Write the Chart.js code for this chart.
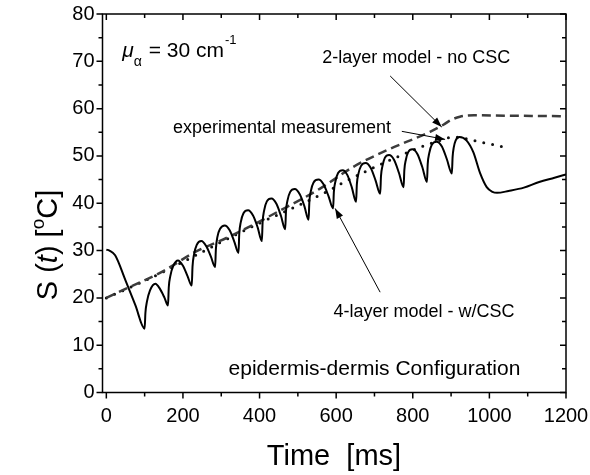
<!DOCTYPE html>
<html>
<head>
<meta charset="utf-8">
<script src="https://cdn.jsdelivr.net/npm/chart.js@4.4.1/dist/chart.umd.min.js"></script>
<style>
  html, body { margin: 0; padding: 0; background: #fff; }
  #wrap { width: 590px; height: 475px; position: relative; }
</style>
</head>
<body>
<div id="wrap"><canvas id="chjs_chart0"></canvas></div>
<script>
// 4-layer model - w/CSC (solid)
const modelTime = [0, 8, 23, 50, 76, 100,
  102, 106, 114, 128, 140, 152, 161,
  163, 167, 175, 187, 200, 212, 223,
  225, 229, 236, 248, 261, 273, 284,
  286, 290, 297, 309, 322, 334, 345,
  347, 351, 358, 370, 383, 395, 406,
  408, 412, 419, 431, 444, 456, 467,
  469, 473, 480, 492, 505, 517, 528,
  530, 534, 541, 554, 567, 580, 592,
  594, 598, 605, 617, 629, 641, 652,
  654, 658, 665, 677, 690, 703, 715,
  717, 721, 727, 738, 751, 764, 776,
  778, 782, 788, 799, 812, 825, 837,
  839, 843, 850, 862, 876, 889, 902,
  904, 907, 912, 922, 940, 958, 976, 993, 1008, 1020, 1050, 1090, 1130, 1170, 1200];
const modelTemp = [30.2, 30.0, 29.0, 23.7, 18.4, 13.5,
  16.8, 19.2, 21.6, 23.0, 21.9, 20.0, 18.4,
  22.2, 24.6, 26.8, 27.9, 26.8, 24.6, 22.6,
  26.6, 29.2, 31.2, 32.0, 30.9, 28.7, 26.5,
  30.3, 32.9, 34.6, 35.3, 34.3, 31.9, 29.5,
  33.5, 36.0, 37.9, 38.5, 37.4, 34.9, 32.0,
  36.0, 38.5, 40.4, 41.0, 39.9, 37.3, 34.5,
  38.3, 40.6, 42.4, 43.0, 41.9, 39.4, 36.5,
  40.3, 42.6, 44.4, 45.0, 44.0, 41.5, 38.9,
  42.4, 44.6, 46.4, 47.0, 46.0, 43.3, 40.3,
  44.0, 46.2, 47.9, 48.5, 47.5, 44.8, 42.0,
  45.7, 47.9, 49.6, 50.2, 49.2, 46.4, 43.4,
  47.0, 49.2, 50.8, 51.4, 50.4, 47.6, 44.5,
  48.3, 50.6, 52.4, 53.0, 52.0, 49.3, 46.3,
  49.8, 51.8, 53.3, 54.0, 53.3, 50.8, 46.3, 43.4, 42.4, 42.2, 42.6, 43.3, 44.5, 45.4, 46.1];

// 2-layer model - no CSC (dashed)
const twoLayerTime = [0, 50, 145, 232, 328, 450, 558, 645, 732, 845, 880, 900, 923, 960, 1050, 1200];
const twoLayerTemp = [20.0, 21.9, 25.5, 29.7, 33.2, 38.3, 43.1, 47.7, 51.2, 55.1, 56.6, 57.6, 58.3, 58.6, 58.5, 58.4];

// experimental measurement (dotted)
const expTime = [0, 100, 200, 300, 400, 500, 584, 610, 689, 754, 828, 880, 906, 930, 958, 984, 1010, 1040];
const expTemp = [20.0, 23.6, 27.6, 31.8, 35.8, 39.5, 42.8, 44.0, 47.2, 49.6, 52.1, 53.5, 54.0, 53.8, 53.3, 52.8, 52.4, 51.8];

// axis ticks
const xMajorTicks = [0, 200, 400, 600, 800, 1000, 1200];
const xMinorTicks = [100, 300, 500, 700, 900, 1100];
const yMajorTicks = [0, 10, 20, 30, 40, 50, 60, 70, 80];
const yMinorTicks = [5, 15, 25, 35, 45, 55, 65, 75];

const FONT = "Arial, 'Liberation Sans', sans-serif";

function pairs(xs, ys){
    const out = [];
    for (let i=0; i<xs.length; i++){
        out.push({x: xs[i], y: ys[i]});
    }
    return out;
}

// draws a row of text pieces (text, font, dy) starting at x
function drawRuns(ctx, runs, x, y){
    let cx = x;
    for (const r of runs){
        ctx.font = r.font;
        ctx.fillText(r.text, cx, y + (r.dy || 0));
        cx += ctx.measureText(r.text).width + (r.gap || 0);
    }
    return cx;
}
function runsWidth(ctx, runs){
    let w = 0;
    for (const r of runs){
        ctx.font = r.font;
        w += ctx.measureText(r.text).width + (r.gap || 0);
    }
    return w;
}

function arrow(ctx, x0, y0, x1, y1){
    ctx.beginPath();
    ctx.moveTo(x0, y0);
    ctx.lineTo(x1, y1);
    ctx.lineWidth = 1;
    ctx.strokeStyle = "#000";
    ctx.stroke();
    const a = Math.atan2(y1 - y0, x1 - x0);
    const len = 10, hw = 3.5;
    ctx.beginPath();
    ctx.moveTo(x1, y1);
    ctx.lineTo(x1 - len*Math.cos(a) + hw*Math.sin(a), y1 - len*Math.sin(a) - hw*Math.cos(a));
    ctx.lineTo(x1 - len*Math.cos(a) - hw*Math.sin(a), y1 - len*Math.sin(a) + hw*Math.cos(a));
    ctx.closePath();
    ctx.fillStyle = "#000";
    ctx.fill();
}

const decor = {
    id: "decor",
    afterDraw(chart){
        const ctx = chart.ctx;
        const a = chart.chartArea;
        const xs = chart.scales.x, ys = chart.scales.y;
        const px = v => xs.getPixelForValue(v);
        const py = v => ys.getPixelForValue(v);
        ctx.save();

        // frame
        ctx.strokeStyle = "#000";
        ctx.lineWidth = 1.5;
        ctx.strokeRect(a.left, a.top, a.right - a.left, a.bottom - a.top);

        // ticks: out on left/bottom, in on top/right
        ctx.beginPath();
        const tick = (list, len) => {
            for (const v of list){
                const x = px(v);
                ctx.moveTo(x, a.bottom); ctx.lineTo(x, a.bottom + len);
                ctx.moveTo(x, a.top); ctx.lineTo(x, a.top + len);
            }
        };
        const ytick = (list, len) => {
            for (const v of list){
                const y = py(v);
                ctx.moveTo(a.left, y); ctx.lineTo(a.left - len, y);
                ctx.moveTo(a.right, y); ctx.lineTo(a.right - len, y);
            }
        };
        tick(xMajorTicks, 6); tick(xMinorTicks, 4);
        ytick(yMajorTicks, 6); ytick(yMinorTicks, 4);
        ctx.stroke();

        ctx.fillStyle = "#000";
        ctx.textBaseline = "alphabetic";
        ctx.textAlign = "left";

        // x title
        const xt = [{text: "Time  [ms]", font: "29px " + FONT}];
        drawRuns(ctx, xt, 334 - runsWidth(ctx, xt)/2, 465);

        // y title (rotated)
        const yt = [
            {text: "S (", font: "29px " + FONT},
            {text: "t", font: "italic 29px " + FONT},
            {text: ") [", font: "29px " + FONT},
            {text: "o", font: "19px " + FONT, dy: -13},
            {text: "C]", font: "29px " + FONT}
        ];
        ctx.save();
        ctx.translate(57, 245);
        ctx.rotate(-Math.PI/2);
        drawRuns(ctx, yt, -runsWidth(ctx, yt)/2, 0);
        ctx.restore();

        // mu_alpha label
        let cx = drawRuns(ctx, [{text: "\u03bc", font: "italic 21px " + FONT}], px(41.7), py(70.9));
        cx = drawRuns(ctx, [{text: "\u03b1", font: "14px " + FONT}], cx, py(70.9) + 9);
        cx = drawRuns(ctx, [{text: " = 30 cm", font: "21px " + FONT}], cx + 1, py(70.9));
        drawRuns(ctx, [{text: "-1", font: "13px " + FONT}], cx + 1, py(70.9) - 13);

        // curve labels
        ctx.textBaseline = "middle";
        ctx.font = "18px " + FONT;
        ctx.fillText("2-layer model - no CSC", px(563.5), py(70.7));
        ctx.fillText("experimental measurement", px(174), py(55.8));
        ctx.fillText("4-layer model - w/CSC", px(593), py(17.0));
        ctx.font = "21px " + FONT;
        ctx.fillText("epidermis-dermis Configuration", px(319), py(5.0));

        // arrows
        arrow(ctx, px(741), py(66.9), px(875.7), py(56.1));
        arrow(ctx, px(771.4), py(55.2), px(884.4), py(53.5));
        arrow(ctx, px(714.8), py(21.2), px(597.4), py(38.9));

        ctx.restore();
    }
};

new Chart(document.getElementById("chjs_chart0"), {
    type: "line",
    data: {
        datasets: [{
            label: "4-layer model - w/CSC",
            data: pairs(modelTime, modelTemp),
            borderColor: "#000",
            borderWidth: 2,
            pointRadius: 0,
            fill: false,
            cubicInterpolationMode: "monotone"
        },
        {
            label: "2-layer model - no CSC",
            data: pairs(twoLayerTime, twoLayerTemp),
            borderColor: "#3c3c3c",
            borderWidth: 2.5,
            borderDash: [9, 5],
            pointRadius: 0,
            fill: false,
            cubicInterpolationMode: "monotone"
        },
        {
            label: "experimental measurement",
            data: pairs(expTime, expTemp),
            borderColor: "#111",
            borderWidth: 3,
            borderDash: [0, 9],
            borderCapStyle: "round",
            pointRadius: 0,
            fill: false,
            cubicInterpolationMode: "monotone"
        }]
    },
    options: {
        responsive: true,
        maintainAspectRatio: false,
        animation: false,
        layout: { padding: { left: 0, top: 14, right: 24, bottom: 0 } },
        plugins: { legend: { display: false }, tooltip: { enabled: false } },
        scales: {
            x: {
                type: "linear",
                min: -10,
                max: 1200,
                afterBuildTicks: s => { s.ticks = xMajorTicks.map(v => ({value: v})); },
                afterFit: s => { s.height = 82.5; s.paddingLeft = 0; s.paddingRight = 0; },
                grid: { display: false, drawTicks: false },
                border: { display: false },
                ticks: { color: "#000", padding: 12, font: { family: FONT, size: 20 }, maxRotation: 0,
                         callback: v => String(v) }
            },
            y: {
                min: 0,
                max: 80,
                afterBuildTicks: s => { s.ticks = yMajorTicks.map(v => ({value: v})); },
                afterFit: s => { s.width = 102.5; s.paddingTop = 0; s.paddingBottom = 0; },
                grid: { display: false, drawTicks: false },
                border: { display: false },
                ticks: { color: "#000", padding: 8, font: { family: FONT, size: 20 } }
            }
        }
    },
    plugins: [decor]
});
</script>
</body>
</html>
